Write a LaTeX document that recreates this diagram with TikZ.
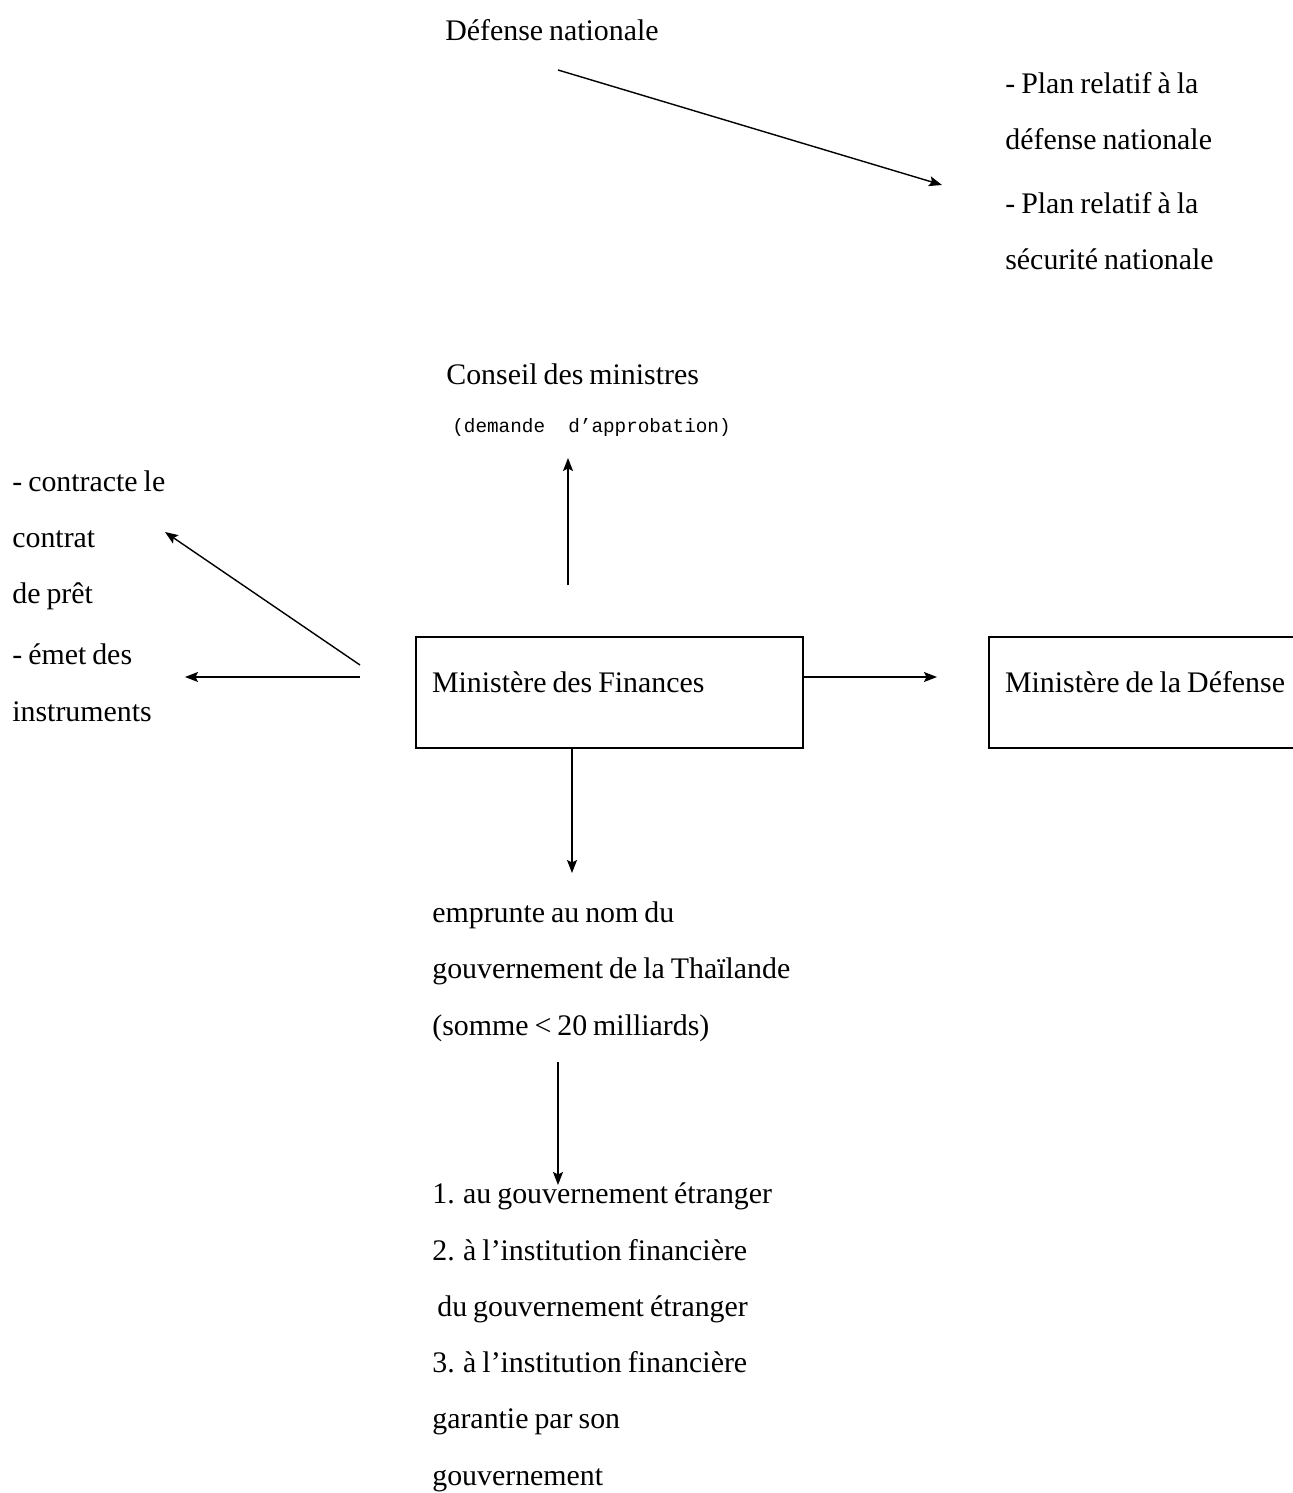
\documentclass[tikz,border=0pt]{standalone}
\usepackage{fontspec}
\setmainfont{Liberation Serif}[WordSpace=0.8]
\newfontfamily\monofont{Liberation Mono}
\usetikzlibrary{arrows.meta}
\tikzstyle{txt} = [anchor=base west, inner sep=0pt, align=left, font=\fontsize{17}{32}\selectfont]
\tikzstyle{note} = [anchor=base west, inner sep=0pt, font=\monofont\fontsize{11}{13}\selectfont]
\tikzstyle{ministry} = [rectangle, draw=black, thick, minimum height=2.22cm, text height=0.4cm, text depth=0.4cm, inner xsep=0.32cm, align=flush left, font=\fontsize{17}{32}\selectfont]
\tikzstyle{arrow} = [thick,-{Stealth[length=0.26cm,width=0.2cm,inset=0.05cm]}]
\begin{document}
\begin{tikzpicture}[x=0.02cm, y=-0.02cm]
\useasboundingbox (0,0) rectangle (1292,1493);

% multi-line texts sit on the baseline of their last line
\node (defnat) [txt] at (445,41) {Défense nationale};
\node (plans) [txt] at (1005,270) {- Plan relatif à la\\ défense nationale\\[0.16cm] - Plan relatif à la\\ sécurité nationale};
\node (conseil) [txt] at (446,384) {Conseil des ministres};
\node (demande) [note] at (452,432) {(demande\ \ d’approbation)};
\node (actions) [txt] at (12,721) {- contracte le\\ contrat\\ de prêt\\[0.1cm] - émet des\\ instruments};
\node (finances) [ministry, text width=7.1cm] at (609.5,692.5) {Ministère des Finances};
\node (defense) [ministry, text width=6cm] at (1155,692.5) {Ministère de la Défense};
\node (emprunt) [txt] at (432,1035) {emprunte au nom du\\ gouvernement de la Thaïlande\\ (somme < 20 milliards)};
\node (preteurs) [txt] at (432,1485) {1. au gouvernement étranger\\ 2. à l’institution financière\\ \hspace{0.1cm}du gouvernement étranger\\ 3. à l’institution financière\\ garantie par son\\ gouvernement};

% free ends of the connectors
\coordinate (defnat-tail) at (558,70);
\coordinate (plans-head) at (942,185);
\coordinate (conseil-tail) at (568,585);
\coordinate (conseil-head) at (568,458);
\coordinate (actions-tail) at (360,665);
\coordinate (contrat-head) at (165,532);
\coordinate (emet-tail) at (360,677);
\coordinate (emet-head) at (185,677);
\coordinate (defense-head) at (937,677);
\coordinate (emprunt-head) at (572,873);
\coordinate (emprunt-tail) at (558,1062);
\coordinate (preteurs-head) at (558,1185);

\draw [arrow] (defnat-tail) -- (plans-head);
\draw [arrow] (conseil-tail) -- (conseil-head);
\draw [arrow] (actions-tail) -- (contrat-head);
\draw [arrow] (emet-tail) -- (emet-head);
\draw [arrow] (finances.east |- defense-head) -- (defense-head);
\draw [arrow] (finances.south -| emprunt-head) -- (emprunt-head);
\draw [arrow] (emprunt-tail) -- (preteurs-head);

\end{tikzpicture}
\end{document}
